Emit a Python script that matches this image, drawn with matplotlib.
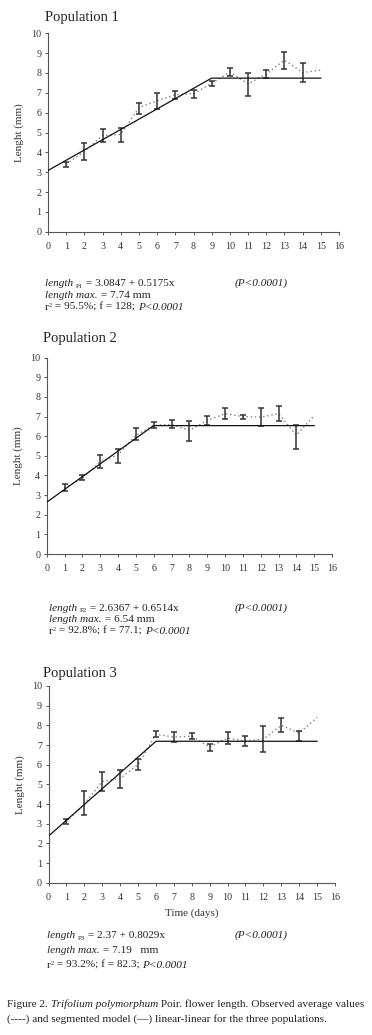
import matplotlib
matplotlib.use("Agg")
import matplotlib.pyplot as plt
import numpy as np

plt.rcParams['font.family'] = ['Liberation Serif', 'DejaVu Serif']

days = list(range(1, 16))

# Population 1 observed means and error bar bounds
p1_mean = [3.40, 4.05, 4.85, 4.90, 6.25, 6.60, 6.90, 6.95, 7.48, 8.05, 7.45, 7.95, 8.65, 8.02, 8.15]
p1_low  = [3.28, 3.60, 4.50, 4.50, 5.95, 6.20, 6.70, 6.75, 7.35, 7.85, 6.85, 7.75, 8.20, 7.55, None]
p1_high = [3.52, 4.45, 5.20, 5.25, 6.50, 7.00, 7.10, 7.15, 7.62, 8.25, 8.00, 8.15, 9.08, 8.50, None]
p1_a, p1_b, p1_max = 3.0847, 0.5175, 7.74

# Population 2
p2_mean = [3.38, 3.85, 4.70, 5.05, 6.05, 6.55, 6.60, 6.30, 6.80, 7.15, 7.00, 6.97, 7.15, 6.05, 7.05]
p2_low  = [3.22, 3.75, 4.40, 4.65, 5.80, 6.40, 6.40, 5.75, 6.55, 6.90, 6.90, 6.50, 6.80, 5.35, None]
p2_high = [3.55, 4.00, 5.05, 5.35, 6.40, 6.70, 6.85, 6.75, 7.05, 7.45, 7.10, 7.45, 7.55, 6.55, None]
p2_a, p2_b, p2_max = 2.6367, 0.6514, 6.54

# Population 3
p3_mean = [3.10, 4.00, 5.15, 5.30, 6.00, 7.55, 7.40, 7.45, 6.90, 7.35, 7.20, 7.30, 8.00, 7.60, 8.40]
p3_low  = [2.98, 3.44, 4.68, 4.83, 5.71, 7.42, 7.15, 7.30, 6.70, 7.05, 6.95, 6.65, 7.65, 7.20, None]
p3_high = [3.22, 4.68, 5.64, 5.73, 6.29, 7.73, 7.65, 7.60, 7.05, 7.65, 7.45, 7.95, 8.35, 7.70, None]
p3_a, p3_b, p3_max = 2.37, 0.8029, 7.19

x_ticks = list(range(0, 17))
y_ticks = list(range(0, 11))

W, H = 372, 1035
fig = plt.figure(figsize=(W / 100, H / 100), dpi=100)

def px_axes(x0, x1, ytop, ybot):
    return fig.add_axes([x0 / W, 1 - ybot / H, (x1 - x0) / W, (ybot - ytop) / H])

def draw_panel(ax, mean, low, high, a, b, mx, xlabel=None):
    m = np.array(mean)
    ax.plot(days, m, linestyle=(0, (1, 2)), color='#808080', lw=1.0, zorder=2)
    ex, ey, lo, hi = [], [], [], []
    for d, mm, l, h in zip(days, mean, low, high):
        if l is None:
            continue
        ex.append(d); ey.append(mm); lo.append(mm - l); hi.append(h - mm)
    ax.errorbar(ex, ey, yerr=[lo, hi], fmt='none', ecolor='#333333', elinewidth=1.1,
                capsize=2.5, capthick=1.1, zorder=3)
    xb = (mx - a) / b
    xs = [0, xb, 15]
    ys = [a, mx, mx]
    ax.plot(xs, ys, color='#111111', lw=0.9, zorder=4)
    ax.set_xlim(0, 16)
    ax.set_ylim(0, 10)
    ax.set_xticks(x_ticks)
    ax.set_yticks(y_ticks)
    ax.tick_params(labelsize=7.2, length=2.2, width=0.7, color='#555555', labelcolor='#333333')
    ax.tick_params(axis='x', pad=5.0)
    ax.tick_params(axis='y', pad=2.5)
    for s in ['top', 'right']:
        ax.spines[s].set_visible(False)
    for s in ['left', 'bottom']:
        ax.spines[s].set_color('#555555')
        ax.spines[s].set_linewidth(0.8)
    ax.set_ylabel('Lenght (mm)', fontsize=8, color='#333333', labelpad=5)
    if xlabel:
        ax.set_xlabel(xlabel, fontsize=8, color='#333333', labelpad=5)

ax1 = px_axes(48, 339, 33.3, 231.7)
draw_panel(ax1, p1_mean, p1_low, p1_high, p1_a, p1_b, p1_max)
ax2 = px_axes(46.7, 332, 357.7, 554)
draw_panel(ax2, p2_mean, p2_low, p2_high, p2_a, p2_b, p2_max)
ax3 = px_axes(48.5, 335, 686, 882.7)
draw_panel(ax3, p3_mean, p3_low, p3_high, p3_a, p3_b, p3_max, xlabel='Time (days)')

fig.canvas.draw()
renderer = fig.canvas.get_renderer()

def seq(x, y, pieces, color='#222222'):
    cx = x
    for txt, style, size, dy in pieces:
        t = fig.text(cx / W, 1 - (y + dy) / H, txt, fontsize=size, style=style,
                     color=color, va='baseline', ha='left')
        bb = t.get_window_extent(renderer=renderer)
        cx += bb.width

def title(x, y, s):
    fig.text(x / W, 1 - y / H, s, fontsize=10.5, color='#222222', va='baseline', ha='left')

title(45, 21, 'Population 1')
title(43, 342, 'Population 2')
title(43, 677, 'Population 3')

fs = 8.1
def eqblock(x, y1, dy, name, eq, mx, stats):
    seq(x, y1, [('length ', 'italic', fs, 0), (name, 'normal', 5, 1.5), (' = ' + eq, 'normal', fs, 0)])
    fig.text(235 / W, 1 - y1 / H, '(P<0.0001)', fontsize=fs, style='italic', color='#222222', va='baseline')
    seq(x, y1 + dy, [('length max.', 'italic', fs, 0), (' = ' + mx, 'normal', fs, 0)])
    seq(x, y1 + 2 * dy, [('r', 'normal', fs, 0), ('2', 'normal', 4.5, -3), (' = ' + stats, 'normal', fs, 0),
                         ('P<0.0001', 'italic', fs, 0)])

eqblock(45, 286, 12, 'P1', '3.0847 + 0.5175x', '7.74 mm', '95.5%; f = 128; ')
eqblock(49, 611, 11.5, 'P2', '2.6367 + 0.6514x', '6.54 mm', '92.8%; f = 77.1; ')
eqblock(47, 938, 15, 'P3', '2.37 + 0.8029x', '7.19   mm', '93.2%; f = 82.3; ')

cfs = 8.1
seq(7, 1007, [('Figure 2. ', 'normal', cfs, 0), ('Trifolium polymorphum', 'italic', cfs, 0),
              (' Poir. flower length. Observed average values', 'normal', cfs, 0)])
seq(7, 1022, [('(----) and segmented model (\u2014) linear-linear for the three populations.', 'normal', cfs, 0)])

fig.savefig('out.png', dpi=100)
